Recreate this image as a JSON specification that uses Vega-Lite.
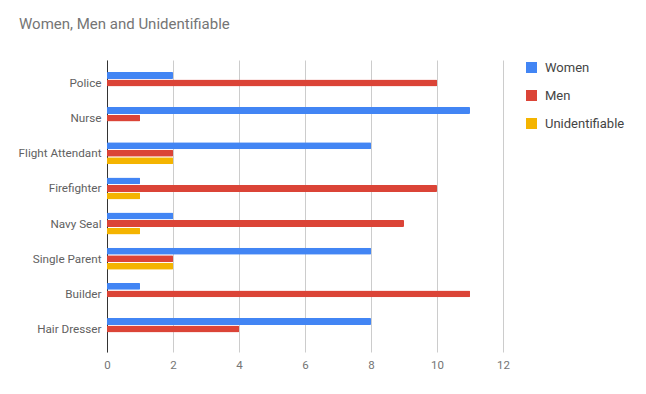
{
  "$schema": "https://vega.github.io/schema/vega-lite/v6.json",
  "autosize": "none",
  "width": 396,
  "height": 292,
  "padding": {"left": 107, "top": 60, "right": 143, "bottom": 42},
  "background": "white",
  "config": {
    "font": "Roboto",
    "view": {"stroke": null}
  },
  "title": {
    "text": "Women, Men and Unidentifiable",
    "anchor": "start",
    "frame": "group",
    "dx": -88,
    "offset": 28,
    "fontSize": 15,
    "fontWeight": "normal",
    "color": "#757575",
    "font": "Roboto"
  },
  "data": {
    "values": [
      {"job": "Police", "group": "Women", "count": 2},
      {"job": "Police", "group": "Men", "count": 10},
      {"job": "Police", "group": "Unidentifiable", "count": 0},
      {"job": "Nurse", "group": "Women", "count": 11},
      {"job": "Nurse", "group": "Men", "count": 1},
      {"job": "Nurse", "group": "Unidentifiable", "count": 0},
      {"job": "Flight Attendant", "group": "Women", "count": 8},
      {"job": "Flight Attendant", "group": "Men", "count": 2},
      {"job": "Flight Attendant", "group": "Unidentifiable", "count": 2},
      {"job": "Firefighter", "group": "Women", "count": 1},
      {"job": "Firefighter", "group": "Men", "count": 10},
      {"job": "Firefighter", "group": "Unidentifiable", "count": 1},
      {"job": "Navy Seal", "group": "Women", "count": 2},
      {"job": "Navy Seal", "group": "Men", "count": 9},
      {"job": "Navy Seal", "group": "Unidentifiable", "count": 1},
      {"job": "Single Parent", "group": "Women", "count": 8},
      {"job": "Single Parent", "group": "Men", "count": 2},
      {"job": "Single Parent", "group": "Unidentifiable", "count": 2},
      {"job": "Builder", "group": "Women", "count": 1},
      {"job": "Builder", "group": "Men", "count": 11},
      {"job": "Builder", "group": "Unidentifiable", "count": 0},
      {"job": "Hair Dresser", "group": "Women", "count": 8},
      {"job": "Hair Dresser", "group": "Men", "count": 4},
      {"job": "Hair Dresser", "group": "Unidentifiable", "count": 0}
    ]
  },
  "mark": {"type": "bar", "cornerRadius": 1},
  "encoding": {
    "y": {
      "field": "job",
      "type": "nominal",
      "sort": null,
      "scale": {"paddingInner": 0.374, "paddingOuter": 0.34},
      "axis": {
        "title": null,
        "ticks": false,
        "domain": true,
        "domainColor": "#333333",
        "domainWidth": 1,
        "labelPadding": 6,
        "labelFontSize": 11.7,
        "labelColor": "#616161",
        "labelFont": "Roboto"
      }
    },
    "yOffset": {
      "field": "group",
      "type": "nominal",
      "sort": ["Women", "Men", "Unidentifiable"],
      "scale": {"paddingInner": 0.08}
    },
    "x": {
      "field": "count",
      "type": "quantitative",
      "scale": {"domain": [0, 12], "nice": false},
      "axis": {
        "title": null,
        "values": [0, 2, 4, 6, 8, 10, 12],
        "ticks": false,
        "domain": false,
        "grid": true,
        "gridColor": "#cccccc",
        "labelPadding": 7,
        "labelFontSize": 11.5,
        "labelColor": "#757575",
        "labelFont": "Roboto",
        "labelFlush": false
      }
    },
    "color": {
      "field": "group",
      "type": "nominal",
      "sort": ["Women", "Men", "Unidentifiable"],
      "scale": {
        "domain": ["Women", "Men", "Unidentifiable"],
        "range": ["#4285f4", "#db4437", "#f4b400"]
      },
      "legend": {
        "title": null,
        "orient": "none",
        "legendX": 418,
        "legendY": 1,
        "symbolType": "square",
        "symbolSize": 121,
        "symbolStrokeWidth": 0,
        "labelFontSize": 13,
        "labelColor": "#444444",
        "labelFont": "Roboto",
        "labelOffset": 7,
        "rowPadding": 14,
        "padding": 0
      }
    }
  }
}
